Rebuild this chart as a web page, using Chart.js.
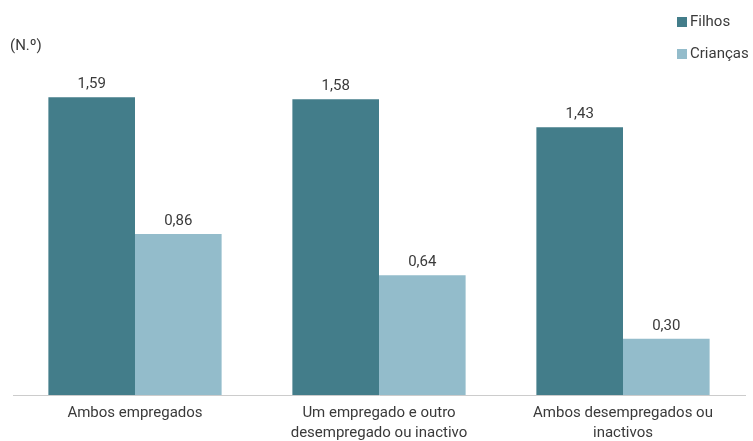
<!DOCTYPE html>
<html>
<head>
<meta charset="utf-8">
<script src="https://cdn.jsdelivr.net/npm/chart.js@4"></script>
<style>
    html, body { margin: 0; padding: 0; background: #fff; }
    #wrap { width: 753px; height: 441px; position: relative; }
</style>
</head>
<body>
<div id="wrap"><canvas id="chart"></canvas></div>
<script>
var categories = [
    ['Ambos empregados'],
    ['Um empregado e outro', 'desempregado ou inactivo'],
    ['Ambos desempregados ou', 'inactivos']
];
var seriesNames = ['Filhos', 'Crianças'];
var filhos = [1.59, 1.58, 1.43];
var criancas = [0.86, 0.64, 0.30];
var unitLabel = '(N.º)';

var FONT = 'Roboto, "Liberation Sans", sans-serif';
var TEXT = '#3a3a3a';

// rótulos dos valores, unidade e legenda vertical
var extrasPlugin = {
    id: 'extras',
    afterDatasetsDraw: function (chart) {
        var ctx = chart.ctx;
        ctx.save();
        ctx.font = '15px ' + FONT;
        ctx.fillStyle = TEXT;
        ctx.textAlign = 'center';
        ctx.textBaseline = 'middle';
        chart.data.datasets.forEach(function (ds, i) {
            chart.getDatasetMeta(i).data.forEach(function (bar, j) {
                ctx.fillText(ds.data[j].toFixed(2).replace('.', ','), bar.x, bar.y - 13);
            });
        });

        ctx.textAlign = 'left';
        ctx.fillText(unitLabel, 10, 46);

        chart.data.datasets.forEach(function (ds, i) {
            var y = 22 + i * 32;
            ctx.fillStyle = ds.backgroundColor;
            ctx.fillRect(677, y - 5, 10, 10);
            ctx.fillStyle = TEXT;
            ctx.fillText(ds.label, 690, y);
        });
        ctx.restore();
    }
};

var ctx = document.getElementById('chart').getContext('2d');
new Chart(ctx, {
    type: 'bar',
    data: {
        labels: categories,
        datasets: [
            {
                label: seriesNames[0],
                data: filhos,
                backgroundColor: '#437d8a',
                borderWidth: 0
            },
            {
                label: seriesNames[1],
                data: criancas,
                backgroundColor: '#93bccb',
                borderWidth: 0
            }
        ]
    },
    options: {
        responsive: true,
        maintainAspectRatio: false,
        animation: false,
        layout: { padding: { top: 58, left: 13, right: 8, bottom: 0 } },
        categoryPercentage: 0.71,
        barPercentage: 1,
        plugins: {
            legend: { display: false },
            tooltip: { enabled: false }
        },
        scales: {
            x: {
                grid: { display: false, drawTicks: false },
                border: { display: true, color: '#cccccc', width: 1 },
                ticks: {
                    color: TEXT,
                    font: { family: FONT, size: 15, lineHeight: 1.33 },
                    padding: 8,
                    maxRotation: 0,
                    autoSkip: false
                },
                afterFit: function (axis) {
                    // o texto de baixo fica cortado no original
                    axis.height = 46;
                }
            },
            y: {
                display: false,
                min: 0,
                max: 1.8
            }
        }
    },
    plugins: [extrasPlugin]
});
</script>
</body>
</html>
